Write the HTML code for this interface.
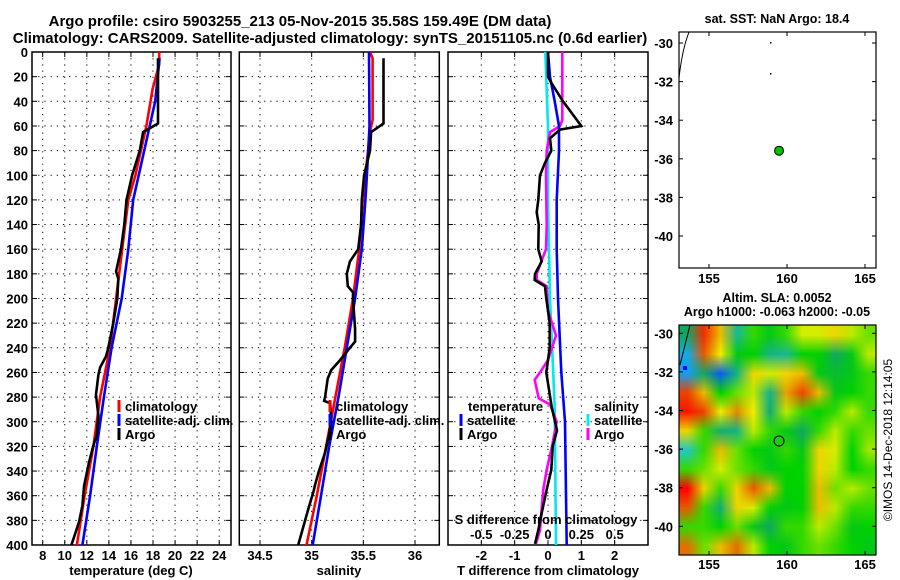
<!DOCTYPE html>
<html><head><meta charset="utf-8"><style>
body{margin:0;background:#fff;position:relative;width:900px;height:580px;overflow:hidden;}
svg{display:block;position:absolute;left:0;top:0;font-family:"Liberation Sans",sans-serif;font-weight:bold;}
#sla{position:absolute;left:679px;top:325px;width:197px;height:230px;image-rendering:auto;}
</style></head><body>
<canvas id="sla" width="12" height="12"></canvas>
<svg id="fig" width="900" height="580" viewBox="0 0 900 580" xmlns="http://www.w3.org/2000/svg">
<text x="300" y="26" text-anchor="middle" font-size="15">Argo profile: csiro 5903255_213 05-Nov-2015 35.58S 159.49E (DM data)</text>
<text x="330" y="43" text-anchor="middle" font-size="15">Climatology: CARS2009. Satellite-adjusted climatology: synTS_20151105.nc (0.6d earlier)</text>
<text x="777" y="23" text-anchor="middle" font-size="12.5">sat. SST: NaN Argo: 18.4</text>
<text x="777" y="302" text-anchor="middle" font-size="12.5">Altim. SLA: 0.0052</text>
<text x="777" y="316" text-anchor="middle" font-size="12.5">Argo h1000: -0.063 h2000: -0.05</text>
<text transform="translate(892,440) rotate(-90)" text-anchor="middle" font-size="12" font-weight="normal">©IMOS 14-Dec-2018 12:14:05</text>
<defs>
<clipPath id="c1"><rect x="32" y="52" width="199" height="493"/></clipPath>
<clipPath id="c2"><rect x="239" y="52" width="200" height="493"/></clipPath>
<clipPath id="c3"><rect x="448" y="52" width="200" height="493"/></clipPath>
<clipPath id="cm2"><rect x="679" y="325" width="197" height="230"/></clipPath>
</defs>
<g id="layer"></g>
</svg>
<script>
// ---------- data ----------
const depthTicks=[0,20,40,60,80,100,120,140,160,180,200,220,240,260,280,300,320,340,360,380,400];
const tempTicks=[8,10,12,14,16,18,20,22,24];
const salTicks=[34.5,35,35.5,36];
const salTickLabels=["34.5","35","35.5","36"];
const tdiffTicks=[-2,-1,0,1,2];
const sdiffTicks=[-0.5,-0.25,0,0.25,0.5];
const sdiffTickLabels=["-0.5","-0.25","0","0.25","0.5"];

const argoDepth=[5,58,65,80,100,120,140,160,178,184,200,220,240,247,256,262,278,284,295,311,319,333,352,368,381,392,400];
const argoTemp=[18.45,18.45,17.1,16.8,16.1,15.6,15.4,15.1,14.65,14.85,14.76,14.4,13.95,13.74,13.2,13.05,12.83,12.9,13.05,12.9,12.6,12.2,11.75,11.6,11.3,10.9,10.6];
const climTDepth=[0,10,30,60,100,120,200,240,280,320,360,400];
const climTemp=[18.56,18.56,17.96,17.4,16.4,15.76,14.65,14.1,13.2,12.6,11.8,11.1];
const satTDepth=[5,40,60,100,120,160,200,240,280,320,360,400];
const satTemp=[18.6,18.2,17.7,16.7,16.2,15.76,15.16,14.25,13.55,12.9,12.3,11.6];

const argoSDepth=[5,58,65,80,100,120,140,160,170,180,190,195,200,225,235,240,250,258,265,280,283,285,300,310,325,340,352,356,370,385,400];
const argoSal=[35.695,35.695,35.575,35.565,35.507,35.485,35.478,35.45,35.37,35.34,35.35,35.40,35.40,35.42,35.42,35.37,35.275,35.19,35.155,35.13,35.12,35.18,35.19,35.17,35.13,35.07,35.03,35.02,34.97,34.92,34.87];
const climSDepth=[0,5,55,65,120,160,200,240,280,320,360,400];
const climSal=[35.565,35.59,35.59,35.565,35.495,35.46,35.40,35.32,35.23,35.14,35.05,34.95];
const satSDepth=[0,60,100,120,160,200,240,280,320,360,400];
const satSal=[35.555,35.56,35.535,35.52,35.485,35.42,35.34,35.26,35.17,35.09,35.01];

const satTdDepth=[0,20,40,60,80,120,160,200,260,300,400];
const satTdiff=[0,0.06,0.2,0.33,0.33,0.26,0.26,0.3,0.4,0.51,0.56];
const argoTdDepth=[0,20,25,40,60,63,70,80,90,100,120,130,140,160,170,180,185,190,200,220,240,260,288,307,320,339,355,374,388,399];
const argoTdiff=[0,0,0.1,0.45,1.0,0.36,0.06,0.1,-0.09,-0.24,-0.29,-0.34,-0.28,-0.29,-0.19,-0.39,-0.4,-0.09,-0.05,0.05,0.05,-0.05,0.11,0.27,0.14,0.1,-0.04,-0.19,-0.29,-0.39];
const satSdDepth=[0,60,120,200,288,400];
const satSdiff=[-0.02,0,0.0,0.015,0.05,0.06];
const argoSdDepth=[0,55,60,65,80,100,140,160,170,180,185,190,210,230,250,260,266,281,286,300,320,339,355,374,388,399];
const argoSdiff=[0.107,0.107,0.09,0.015,-0.01,-0.015,-0.01,-0.015,-0.05,-0.085,-0.085,-0.01,0.0,0.06,0.0,-0.06,-0.1,-0.07,0.015,0.065,0.03,-0.01,-0.035,-0.05,-0.06,-0.09];

const lonTicks=[155,160,165];
const latTicks=[-30,-32,-34,-36,-38,-40];
const argoLon=159.49, argoLat=-35.58;
const slaGrid=[
[-0.3,1.5,0.9,-0.6,0.2,0,0.2,0.6,0.6,0.8,0.5,0.3],
[-1.2,1.3,0.7,0,0.1,-0.5,-0.6,0.1,0.1,-0.3,0,0.5],
[-1.3,-0.3,-1.6,-0.5,0.8,0.6,0.8,0.9,0,-0.1,0,0.2],
[1.4,0.9,0.1,0.3,0.5,-0.5,1.0,1.4,0.9,0,0.1,0.2],
[1.6,1.4,0.7,1.1,0.7,-0.4,0.5,0.2,0.1,0.2,0.5,0.2],
[0.8,0.2,-0.4,-0.5,0.5,0.2,0,-0.3,0.2,0.5,0.2,0.3],
[-0.9,0.2,0.9,0.3,0.1,0,0.2,0,0.8,0.6,0.1,0.4],
[0.2,0.3,0.6,0.3,0.2,0,0.1,0.1,0.8,0.5,0.1,0.2],
[2.0,0.8,0.2,0.8,1.3,0.9,0.1,0.1,0.9,0.3,0.5,0.3],
[1.3,0.2,-0.4,0.8,0.6,0.1,0,0.1,0.9,0.5,0.2,0.2],
[0.2,0.2,0.1,0.3,0,-0.3,0.2,0.2,0.5,0.3,0,0.1],
[1.2,0.3,0.9,1.2,0.5,0.1,0,0.2,0.3,0.2,0.1,0]];

// ---------- helpers ----------
const NS="http://www.w3.org/2000/svg";
const layer=document.getElementById('layer');
function el(tag,attrs,parent){const e=document.createElementNS(NS,tag);for(const k in attrs)e.setAttribute(k,attrs[k]);(parent||layer).appendChild(e);return e;}
function txt(x,y,s,anchor,size,parent){const t=el('text',{x:x,y:y,'text-anchor':anchor||'middle','font-size':size||13},parent);t.textContent=s;return t;}
const Y0=52,Y1=545;
const yD=d=>Y0+(Y1-Y0)*d/400;
function lin(d0,d1,r0,r1){return v=>r0+(v-d0)*(r1-r0)/(d1-d0);}

function panel(name,x0,x1,xs,ticks,labels){
  const g=el('g',{});
  
  
  ticks.forEach((t,i)=>{const x=xs(t);
    const l=el('line',{x1:x,x2:x,y1:Y0,y2:Y1,stroke:'#000','stroke-width':1,'stroke-dasharray':'1.2 5'},g);
    
    
    el('line',{x1:x,x2:x,y1:Y1,y2:Y1-5,stroke:'#000'},g);el('line',{x1:x,x2:x,y1:Y0,y2:Y0+5,stroke:'#000'},g);
    if(labels){const tl=txt(x,Y1+15,labels[i],'middle',13,g);
    
    }
  });
  depthTicks.forEach(d=>{const y=yD(d);
    if(d>0&&d<400){const l=el('line',{x1:x0,x2:x1,y1:y,y2:y,stroke:'#000','stroke-width':1,'stroke-dasharray':'1.2 5'},g);
    
    }
    el('line',{x1:x0,x2:x0+5,y1:y,y2:y,stroke:'#000'},g);el('line',{x1:x1,x2:x1-5,y1:y,y2:y,stroke:'#000'},g);
  });
  el('rect',{x:x0,y:Y0,width:x1-x0,height:Y1-Y0,fill:'none',stroke:'#000','stroke-width':1.5},g);
  return g;
}
function series(name,g,xs,xv,dv,color,clip){
  const p=xv.map((v,i)=>xs(v).toFixed(1)+','+yD(dv[i]).toFixed(1)).join(' ');
  const l=el('polyline',{points:p,fill:'none',stroke:color,'stroke-width':2.6,'clip-path':'url(#'+clip+')','stroke-linejoin':'miter'},g);
  
  
}
function legend(g,x,y,color,label,name){
  el('line',{x1:x,x2:x,y1:y-11,y2:y+1,stroke:color,'stroke-width':3},g);
  const t=txt(x+6,y,label,'start',13,g);
  
  
}

depthTicks.forEach(d=>{const t=txt(28,yD(d)+5,String(d),'end',13);
  
  });

// Panel 1 temperature
const xT=lin(8,25.07,42.7,231);
const g1=panel('temperature-panel',32,231,xT,tempTicks,tempTicks.map(String));
series('temp-climatology-line',g1,xT,climTemp,climTDepth,'#ff0000','c1');
series('temp-satellite-line',g1,xT,satTemp,satTDepth,'#0000ff','c1');
series('temp-argo-line',g1,xT,argoTemp,argoDepth,'#000','c1');
legend(g1,119,411,'#f00','climatology','legend-climatology');
legend(g1,119,425,'#00f','satellite-adj. clim.','legend-satellite-adj');
legend(g1,119,439,'#000','Argo','legend-argo');
txt(131,575,'temperature (deg C)','middle',13);

// Panel 2 salinity
const xS=lin(34.5,36,260,415);
const g2=panel('salinity-panel',239.3,439.3,xS,salTicks,salTickLabels);
series('sal-climatology-line',g2,xS,climSal,climSDepth,'#ff0000','c2');
series('sal-satellite-line',g2,xS,satSal,satSDepth,'#0000ff','c2');
series('sal-argo-line',g2,xS,argoSal,argoSDepth,'#000','c2');
legend(g2,330,411,'#f00','climatology','legend-climatology-2');
legend(g2,330,425,'#00f','satellite-adj. clim.','legend-satellite-adj-2');
legend(g2,330,439,'#000','Argo','legend-argo-2');
txt(339,575,'salinity','middle',13);

// Panel 3 differences
const xTd=lin(-3,3,448,648);
const xSd=lin(-0.75,0.75,448,648);
const g3=panel('difference-panel',448,648,xTd,tdiffTicks,tdiffTicks.map(String));
series('sat-sdiff-line',g3,xSd,satSdiff,satSdDepth,'#00e8f0','c3');
series('argo-sdiff-line',g3,xSd,argoSdiff,argoSdDepth,'#ff00ff','c3');
series('sat-tdiff-line',g3,xTd,satTdiff,satTdDepth,'#0000ff','c3');
series('argo-tdiff-line',g3,xTd,argoTdiff,argoTdDepth,'#000','c3');
txt(468,411,'temperature','start',13,g3);
legend(g3,461,425,'#00f','satellite','legend-t-satellite');
legend(g3,461,439,'#000','Argo','legend-t-argo');
txt(594,411,'salinity','start',13,g3);
legend(g3,588,425,'#00f0f0','satellite','legend-s-satellite');
legend(g3,588,439,'#f0f','Argo','legend-s-argo');
txt(546,524,'S difference from climatology','middle',13,g3);
sdiffTicks.forEach((v,i)=>{const t=txt(xSd(v),539,sdiffTickLabels[i],'middle',13,g3);
  
  });
txt(548,575,'T difference from climatology','middle',13);

// ---------- maps ----------
const xL=lin(155,165,709,865);
function map(name,top,bot,latTop){
  const yL=lin(latTop,latTop-(bot-top)/19.3,top,bot);
  const g=el('g',{});
  
  
  return {g,yL};
}
const m1=map('sst-map',32,268,-29.43);
el('path',{d:'M679,78 C681,60 684,45 689,32',fill:'none',stroke:'#000','stroke-width':1},m1.g);
el('rect',{x:770,y:42,width:1.5,height:1.5,fill:'#000'},m1.g);
el('rect',{x:770,y:73,width:1.5,height:1.5,fill:'#000'},m1.g);
const dot=el('circle',{cx:xL(argoLon),cy:m1.yL(argoLat),r:4.5,fill:'#00c000',stroke:'#000','stroke-width':1},m1.g);



const m2=map('sla-map',325,555,-29.57);
const stops=[[-2,[0,0,255]],[-1.3,[16,160,240]],[-0.9,[32,200,200]],[-0.3,[16,168,96]],[0.1,[0,210,0]],[0.4,[160,232,0]],[0.7,[240,240,0]],[1.2,[224,112,0]],[1.7,[255,0,0]]];
function cmap(v){v=Math.max(-2,Math.min(1.7,v));for(let i=1;i<stops.length;i++){if(v<=stops[i][0]){const a=stops[i-1],b=stops[i],t=(v-a[0])/(b[0]-a[0]);return 'rgb('+a[1].map((c,k)=>Math.round(c+(b[1][k]-c)*t)).join(',')+')';}}return 'rgb(255,0,0)';}
const cv=document.getElementById('sla');
const ctx=cv.getContext('2d');
slaGrid.forEach((row,r)=>row.forEach((v,c)=>{ctx.fillStyle=cmap(v);ctx.fillRect(c,r,1,1);}));
const hg=el('g',{'clip-path':'url(#cm2)'},m2.g);
el('path',{d:'M680,365 L690,325',fill:'none',stroke:'#000','stroke-width':1},hg);
el('rect',{x:683,y:366,width:4,height:4,fill:'#0000ff'},hg);
const ring=el('circle',{cx:xL(argoLon),cy:m2.yL(argoLat),r:5,fill:'none',stroke:'#000','stroke-width':1},m2.g);


[[m1,32,268,283],[m2,325,555,569]].forEach(([m,t,b,ly])=>{
  el('rect',{x:679,y:t,width:197,height:b-t,fill:'none',stroke:'#000','stroke-width':1.2},m.g);
  lonTicks.forEach(v=>{const x=xL(v);el('line',{x1:x,x2:x,y1:b,y2:b-4,stroke:'#000'},m.g);el('line',{x1:x,x2:x,y1:t,y2:t+4,stroke:'#000'},m.g);
    const tl=txt(x,ly,String(v),'middle',13,m.g);
    
    });
  latTicks.forEach(v=>{const y=m.yL(v);el('line',{x1:679,x2:683,y1:y,y2:y,stroke:'#000'},m.g);el('line',{x1:876,x2:872,y1:y,y2:y,stroke:'#000'},m.g);
    const tl=txt(673,y+5,String(v),'end',13,m.g);
    
    });
});
</script>
</body></html>
